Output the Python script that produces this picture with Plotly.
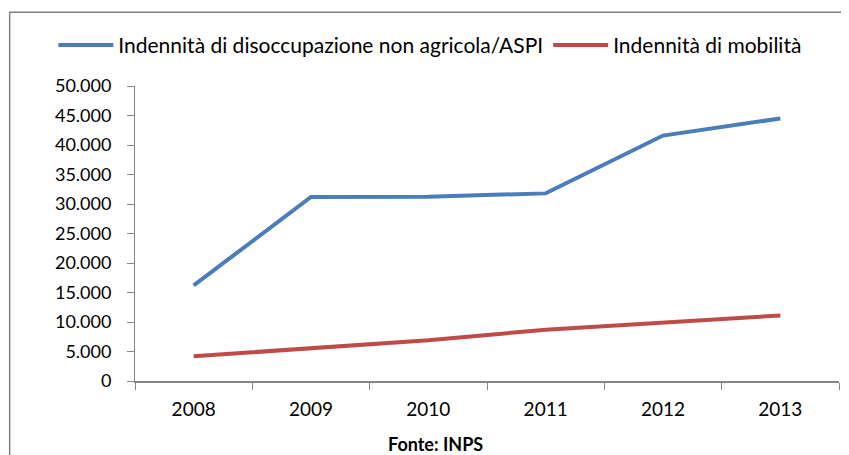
import plotly.graph_objects as go

anni = ['2008', '2009', '2010', '2011', '2012', '2013']
disoccupazione = [16200, 31200, 31250, 31800, 41600, 44500]
mobilita = [4200, 5600, 6900, 8700, 9900, 11100]
y_ticks = [0, 5000, 10000, 15000, 20000, 25000, 30000, 35000, 40000, 45000, 50000]
y_labels = ['0', '5.000', '10.000', '15.000', '20.000', '25.000',
            '30.000', '35.000', '40.000', '45.000', '50.000']

fig = go.Figure()
fig.add_trace(go.Scatter(x=anni, y=disoccupazione, mode='lines',
                         name='Indennità di disoccupazione non agricola/ASPI',
                         line=dict(color='#4a7ebb', width=4)))
fig.add_trace(go.Scatter(x=anni, y=mobilita, mode='lines',
                         name='Indennità di mobilità',
                         line=dict(color='#be4b48', width=4)))

# page body adds 8px margin, so margins are reduced by 8
fig.update_layout(
    width=849, height=455,
    margin=dict(l=127, r=18, t=78, b=82, autoexpand=False),
    paper_bgcolor='white', plot_bgcolor='white',
    font=dict(family='Lato', size=18, color='black'),
    legend=dict(orientation='h', x=-0.116, y=1.138, xanchor='left', yanchor='middle',
                font=dict(size=21), itemwidth=55, tracegroupgap=0),
    xaxis=dict(type='category', showgrid=False, showline=True, linecolor='#868686',
               linewidth=2, ticks='outside', tickson='boundaries', ticklen=7,
               tickcolor='#868686', ticklabelstandoff=10, range=[-0.5, 5.5],
               tickfont=dict(size=19)),
    yaxis=dict(range=[0, 50000], tickvals=y_ticks, ticktext=y_labels, showgrid=False,
               showline=True, linecolor='#868686', linewidth=1, ticks='outside',
               ticklen=7, tickcolor='#868686', ticklabelstandoff=12, zeroline=False),
    shapes=[dict(type='rect', xref='paper', yref='paper', x0=-0.178, x1=2, y0=-2, y1=1.25,
                 line=dict(color='#808080', width=1.5))],
    annotations=[dict(text='<b>Fonte: INPS</b>', xref='paper', yref='paper', x=0.427, y=-0.215,
                      showarrow=False, font=dict(size=18), xanchor='center', yanchor='middle')],
)

fig.write_html('out.html')
